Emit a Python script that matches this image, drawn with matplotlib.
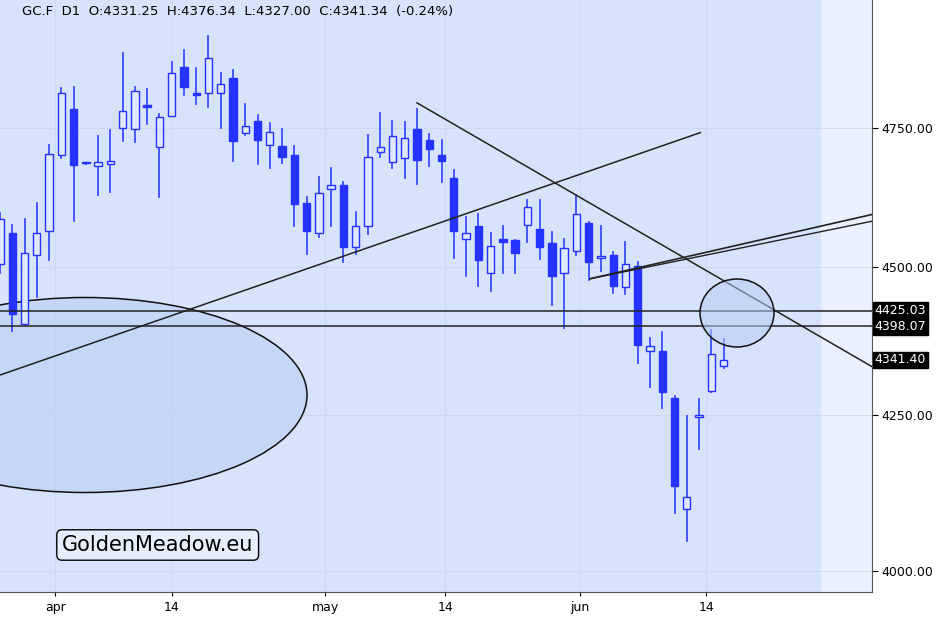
import matplotlib
matplotlib.use("Agg")
import matplotlib.pyplot as plt
from matplotlib.patches import Ellipse, Rectangle
import numpy as np

opens  = [4505,4560,4403,4521,4563,4700,4785,4685,4680,4684,4750,4748,4792,4714,4771,4864,4815,4815,4815,4843,
          4741,4762,4718,4716,4700,4614,4560,4639,4646,4535,4572,4706,4688,4695,4748,4727,4700,4658,4549,4573,
          4490,4549,4548,4575,4568,4543,4490,4528,4577,4517,4521,4465,4503,4356,4356,4278,4097,4246,4290,4331.25]
highs  = [4596,4575,4585,4614,4719,4823,4826,4686,4735,4746,4890,4826,4821,4775,4873,4896,4862,4921,4851,4857,
          4793,4773,4758,4748,4717,4625,4661,4676,4652,4598,4737,4777,4763,4760,4785,4739,4728,4672,4588,4594,
          4560,4573,4548,4618,4618,4562,4549,4627,4579,4573,4526,4545,4509,4378,4388,4281,4248,4276,4392,4376.34]
lows   = [4490,4390,4400,4448,4512,4695,4582,4684,4628,4634,4725,4723,4756,4625,4771,4811,4794,4789,4750,4690,
          4737,4684,4676,4686,4572,4523,4553,4572,4510,4524,4558,4696,4676,4658,4648,4680,4652,4516,4485,4468,
          4458,4490,4490,4545,4514,4434,4395,4521,4478,4493,4456,4453,4336,4296,4262,4092,4047,4194,4287,4327.00]
closes = [4585,4420,4525,4560,4702,4815,4682,4686,4688,4689,4780,4819,4788,4769,4852,4826,4811,4881,4832,4725,
          4754,4727,4743,4696,4612,4564,4632,4646,4535,4572,4696,4714,4735,4731,4691,4711,4690,4564,4560,4512,
          4537,4545,4525,4607,4535,4484,4533,4594,4509,4519,4468,4505,4366,4365,4288,4135,4116,4249,4352,4341.34]

tick_pos = [4.5, 14.0, 26.5, 36.3, 47.3, 57.6]
tick_labels = ["apr", "14", "may", "14", "jun", "14"]
y_ticks = [4000, 4250, 4500, 4750]
levels = [4425.03, 4398.07]
last_label = 4341.40

blue = "#2433ff"
W, H = 945, 618
fig = plt.figure(figsize=(9.45, 6.18), dpi=100)
fig.patch.set_facecolor("#ffffff")
ax = fig.add_axes([0, 26/618, 872/945, 592/618])
ax.set_facecolor("#eaf0fd")
ax.set_yscale("log")
xmax = 71.1
ax.set_xlim(0, xmax)
ax.set_ylim(3968, 4991)

ax.axvspan(0, 66.9, color="#d6e3fb", zorder=0)
for t in tick_pos:
    ax.axvline(t, color="#c9d6f0", lw=0.6, zorder=0.5)
for t in y_ticks:
    ax.axhline(t, color="#c9d6f0", lw=0.6, zorder=0.5)

bw = 0.6
for i, (o, h, l, c) in enumerate(zip(opens, highs, lows, closes)):
    ax.plot([i, i], [l, h], color=blue, lw=1.3, zorder=3, alpha=0.85)
    lo, hi = min(o, c), max(o, c)
    if hi - lo < 2:
        hi = lo + 2
    if c < o:
        r = Rectangle((i - bw/2, lo), bw, hi - lo, facecolor=blue, edgecolor=blue, lw=1, zorder=4)
    else:
        r = Rectangle((i - bw/2, lo), bw, hi - lo, facecolor="#dfe8fc", edgecolor=blue, lw=1, zorder=4)
    ax.add_patch(r)

ax.plot([0, 57.1], [4316, 4741], color="#222", lw=1.1, zorder=5)
ax.plot([34.0, 71.1], [4796, 4330], color="#222", lw=1.1, zorder=5)
ax.plot([48.1, 71.1], [4480, 4593], color="#222", lw=1.2, zorder=5)
ax.plot([48.1, 71.1], [4480, 4581], color="#222", lw=1.0, zorder=5)
for lv in levels:
    ax.axhline(lv, color="#222", lw=1.1, zorder=5)

AH = 592.0
ax.add_patch(Ellipse((85/872, 1 - 395/AH), 444/872, 195/AH, transform=ax.transAxes,
                     facecolor=(0.72, 0.8, 0.96, 0.55), edgecolor="#111", lw=1.1, zorder=2))
ax.add_patch(Ellipse((737/872, 1 - 313/AH), 74/872, 68/AH, transform=ax.transAxes,
                     facecolor=(0.72, 0.8, 0.96, 0.55), edgecolor="#111", lw=1.1, zorder=6))

ax.set_xticks(tick_pos)
ax.set_xticklabels(tick_labels, fontsize=9)
ax.yaxis.tick_right()
ax.set_yticks(y_ticks)
ax.set_yticklabels([f"{v:.2f}" for v in y_ticks], fontsize=9)
ax.minorticks_off()
ax.tick_params(axis="y", length=4, pad=3)
ax.tick_params(axis="x", length=3)
for s in ["top", "left"]:
    ax.spines[s].set_visible(False)
ax.spines["right"].set_color("#555")
ax.spines["bottom"].set_color("#555")

for v in levels + [last_label]:
    ax.text(xmax + 0.2, v, f"{v:.2f}", fontsize=9, color="white", va="center", ha="left",
            bbox=dict(boxstyle="square,pad=0.15", fc="black", ec="black"), zorder=10, clip_on=False)

fig.text(22/W, 1 - 11/H, "GC.F  D1  O:4331.25  H:4376.34  L:4327.00  C:4341.34  (-0.24%)",
         fontsize=9.5, va="center", ha="left")
fig.text(62/W, 1 - 545/H, "GoldenMeadow.eu", fontsize=15, va="center", ha="left",
         bbox=dict(boxstyle="round,pad=0.25", fc="#e6eefc", ec="black", lw=1))

fig.savefig("out.png", dpi=100)
